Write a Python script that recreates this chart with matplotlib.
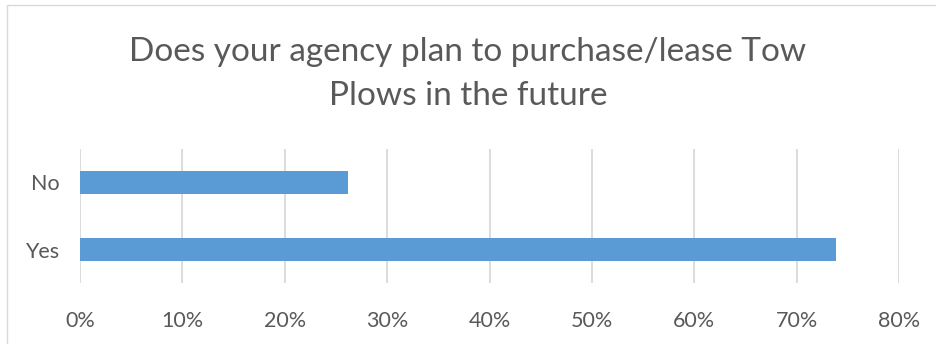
import numpy as np
import matplotlib.pyplot as plt
from matplotlib.patches import Rectangle

plt.rcParams['font.family'] = ['Lato', 'DejaVu Sans']

categories = ['Yes', 'No']
shares = [0.738, 0.262]
ticks = [0, 0.1, 0.2, 0.3, 0.4, 0.5, 0.6, 0.7, 0.8]
title = 'Does your agency plan to purchase/lease Tow\nPlows in the future'

text_col = '#595959'
grid_col = '#D9D9D9'

fig = plt.figure(figsize=(9.36, 3.44), dpi=100)
W, H = 936, 344
ax = fig.add_axes([80 / W, 1 - 283 / H, (899 - 80) / W, (283 - 149) / H])

y = np.arange(len(categories))
ax.barh(y, shares, height=0.34, color='#5B9BD5', zorder=3)
ax.set_ylim(-0.5, len(categories) - 0.5)
ax.set_xlim(0, 0.8)
ax.set_xticks(ticks)
ax.set_xticklabels([f'{int(round(t * 100))}%' for t in ticks])
ax.set_yticks(y)
ax.set_yticklabels(categories)
ax.tick_params(length=0, labelsize=15.5, colors=text_col)
ax.tick_params(axis='x', pad=20)
ax.tick_params(axis='y', pad=15)
ax.grid(axis='x', color=grid_col, linewidth=1.3, zorder=0)
for s in ax.spines.values():
    s.set_visible(False)

fig.text(0.5, 1 - 74 / H, title, ha='center', va='center', fontsize=24,
         color=text_col, linespacing=1.55)

# light frame round the chart
fig.patches.append(Rectangle((7 / W, -0.01), 1.01, 1 - 5 / H + 0.01,
                             transform=fig.transFigure, fill=False,
                             edgecolor=grid_col, linewidth=1))

fig.savefig('out.png', dpi=100)
